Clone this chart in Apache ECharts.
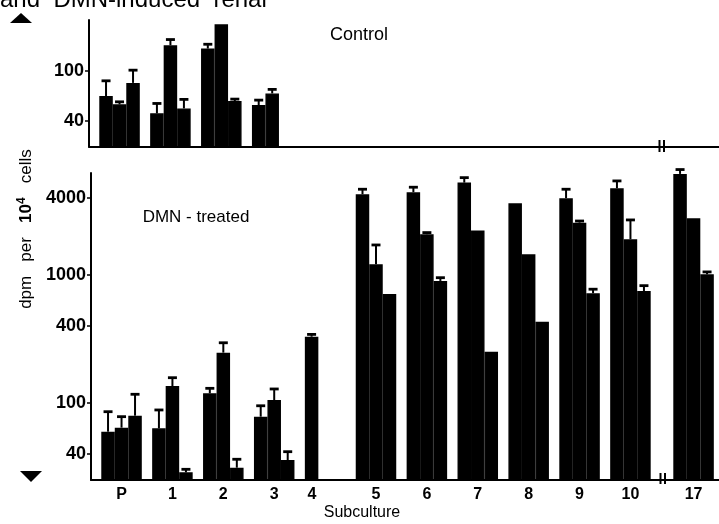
<!DOCTYPE html>
<html><head><meta charset="utf-8">
<script src="https://cdn.jsdelivr.net/npm/echarts@6/dist/echarts.min.js"></script>
<style>html,body{margin:0;padding:0;background:#fff;overflow:hidden}#c{width:719px;height:524px}</style>
</head><body><div id="c"></div>
<script>
// ---------- data ----------
const subcultures = ['P','1','2','3','4','5','6','7','8','9','10','17'];
// Control panel (bar tops and error-bar tops)
const controlBar1 = [63.3, 46.1, 151.6, 53.7, null, null, null, null, null, null, null, null];
const controlBar2 = [54.4, 161, 236.6, 66.5, null, null, null, null, null, null, null, null];
const controlBar3 = [80.7, 50.5, 57.8, null, null, null, null, null, null, null, null, null];
const controlErr1 = [83.8, 55.3, 164, 58.8, null, null, null, null, null, null, null, null];
const controlErr2 = [57.0, 178.8, null, 71.6, null, null, null, null, null, null, null, null];
const controlErr3 = [101.9, 59.6, 59.9, null, null, null, null, null, null, null, null, null];
// DMN-treated panel
const dmnBar1 = [59.6, 63.3, 118.9, 78.1, 329, 4265, 4426, 5257, 3628, 3970, 4750, 6150];
const dmnBar2 = [64.1, 135.5, 247, 105.4, null, 1211, 2078, 2218, 1448, 2560, 1898, 2772];
const dmnBar3 = [79.5, 28.7, 31.2, 35.8, null, 710, 897, 251, 431, 719, 749, 1011];
const dmnErr1 = [85.4, 88.1, 130, 95, 343, 4667, 4840, 5750, null, 4667, 5420, 6650];
const dmnErr2 = [78.1, 157.4, 295, 128.5, null, 1713, 2140, null, null, 2636, 2687, null];
const dmnErr3 = [116.8, 30.3, 36.3, 41.6, null, null, 951, null, null, 773, 824, 1055];
// tick labels
const controlTicks = [40, 100];
const dmnTicks = [40, 100, 400, 1000, 4000];

// ---------- layout ----------
const groupPos = [0,1,2,3,4,5,6,7,8,9,10,11.24];   // x slot of each subculture (break before 17)
const labelPos = [0,1,2,3,3.74,5,6,7,8,9,10,11.24];
const BW = 13.5;
const FONT = '"Liberation Sans", Arial, sans-serif';

const chart = echarts.init(document.getElementById('c'), null, {renderer:'canvas'});

function barSeries(vals, gi){
  const data = [];
  vals.forEach((v,i)=>{ if(v!=null) data.push([groupPos[i], v]); });
  return {type:'bar', xAxisIndex:gi, yAxisIndex:gi, data, barWidth:BW, barGap:'0%',
    itemStyle:{color:'#000', borderColor:'#000', borderWidth:1.4}, silent:true, animation:false, clip:true};
}
function errSeries(bars, errs, gi){
  const data = [];
  for(let k=0;k<3;k++){
    errs[k].forEach((e,i)=>{ if(e!=null && bars[k][i]!=null) data.push([groupPos[i], bars[k][i], e, k]); });
  }
  return {type:'custom', xAxisIndex:gi, yAxisIndex:gi, data, silent:true, animation:false, clip:false,
    encode:{x:0, y:1},
    renderItem(params, api){
      const x = api.value(0), lo = api.value(1), hi = api.value(2), k = api.value(3);
      const p1 = api.coord([x, lo]), p2 = api.coord([x, hi]);
      const cx = p1[0] + (k-1)*BW;
      return {type:'group', children:[
        {type:'line', shape:{x1:cx, y1:p1[1], x2:cx, y2:p2[1]}, style:{stroke:'#000', lineWidth:2}},
        {type:'line', shape:{x1:cx-4.5, y1:p2[1], x2:cx+4.5, y2:p2[1]}, style:{stroke:'#000', lineWidth:2.8}}
      ]};
    }};
}

const yLabelStyle = {color:'#000', fontFamily:FONT, fontSize:18, fontWeight:'bold', margin:5,
  formatter: v => String(Math.round(v))};

const option = {
  backgroundColor:'#fff',
  animation:false,
  grid:[
    {left:89, right:0, top:20, height:126.7},
    {left:91, right:0, top:173, height:307}
  ],
  xAxis:[
    {type:'value', gridIndex:0, min:-0.6, max:11.78,
     axisLine:{onZero:false, lineStyle:{color:'#000', width:2}}, axisTick:{show:false},
     axisLabel:{show:false}, splitLine:{show:false}},
    {type:'value', gridIndex:1, min:-0.6, max:11.74,
     axisLine:{onZero:false, lineStyle:{color:'#000', width:2}}, axisTick:{show:false},
     axisLabel:{customValues:labelPos, color:'#000', fontFamily:FONT, fontSize:16, fontWeight:'bold', margin:7,
       formatter: v => { const i = labelPos.findIndex(p => Math.abs(p - v) < 1e-6); return i >= 0 ? subcultures[i] : ''; }},
     splitLine:{show:false}}
  ],
  yAxis:[
    {type:'log', gridIndex:0, min:25, max:256,
     axisLine:{show:true, onZero:false, lineStyle:{color:'#000', width:2}},
     axisTick:{show:true, length:4, customValues:controlTicks, lineStyle:{color:'#000', width:1.5}},
     axisLabel:Object.assign({customValues:controlTicks}, yLabelStyle), splitLine:{show:false}},
    {type:'log', gridIndex:1, min:25, max:6250,
     axisLine:{show:true, onZero:false, lineStyle:{color:'#000', width:2}},
     axisTick:{show:true, length:4, customValues:dmnTicks, lineStyle:{color:'#000', width:1.5}},
     axisLabel:Object.assign({customValues:dmnTicks}, yLabelStyle), splitLine:{show:false}}
  ],
  series:[
    barSeries(controlBar1,0), barSeries(controlBar2,0), barSeries(controlBar3,0),
    errSeries([controlBar1,controlBar2,controlBar3],[controlErr1,controlErr2,controlErr3],0),
    barSeries(dmnBar1,1), barSeries(dmnBar2,1), barSeries(dmnBar3,1),
    errSeries([dmnBar1,dmnBar2,dmnBar3],[dmnErr1,dmnErr2,dmnErr3],1)
  ],
  graphic:[
    {type:'text', x:0, y:-12, style:{text:'and  DMN-induced  renal', font:'24px '+FONT, fill:'#000', verticalAlign:'top'}},
    {type:'polygon', shape:{points:[[10,23],[21,13],[32,23]]}, style:{fill:'#000'}},
    {type:'polygon', shape:{points:[[20,471],[42,471],[31,482]]}, style:{fill:'#000'}},
    {type:'text', x:359, y:35, style:{text:'Control', font:'18px '+FONT, fill:'#000', align:'center', verticalAlign:'middle'}},
    {type:'text', x:196, y:217, style:{text:'DMN - treated', font:'17px '+FONT, fill:'#000', align:'center', verticalAlign:'middle'}},
    {type:'text', x:362, y:513, style:{text:'Subculture', font:'16px '+FONT, fill:'#000', align:'center', verticalAlign:'middle'}},
    {type:'text', x:26, y:229, rotation:Math.PI/2,
     style:{text:'dpm   per   {b|10}{s|4}   cells', font:'17px '+FONT, fill:'#000', align:'center', verticalAlign:'middle',
       rich:{b:{font:'bold 17px '+FONT, fill:'#000'}, s:{font:'bold 12px '+FONT, fill:'#000', verticalAlign:'top', padding:[0,0,8,0]}}}},
    // axis breaks
    {type:'rect', shape:{x:660, y:143, width:4, height:7}, style:{fill:'#fff'}},
    {type:'line', shape:{x1:659.5, y1:140, x2:659.5, y2:152}, style:{stroke:'#000', lineWidth:2}},
    {type:'line', shape:{x1:664, y1:140, x2:664, y2:152}, style:{stroke:'#000', lineWidth:2}},
    {type:'rect', shape:{x:661, y:476, width:4, height:7}, style:{fill:'#fff'}},
    {type:'line', shape:{x1:660.5, y1:473, x2:660.5, y2:484}, style:{stroke:'#000', lineWidth:2}},
    {type:'line', shape:{x1:665, y1:473, x2:665, y2:484}, style:{stroke:'#000', lineWidth:2}}
  ]
};
chart.setOption(option);
</script>
</body></html>
